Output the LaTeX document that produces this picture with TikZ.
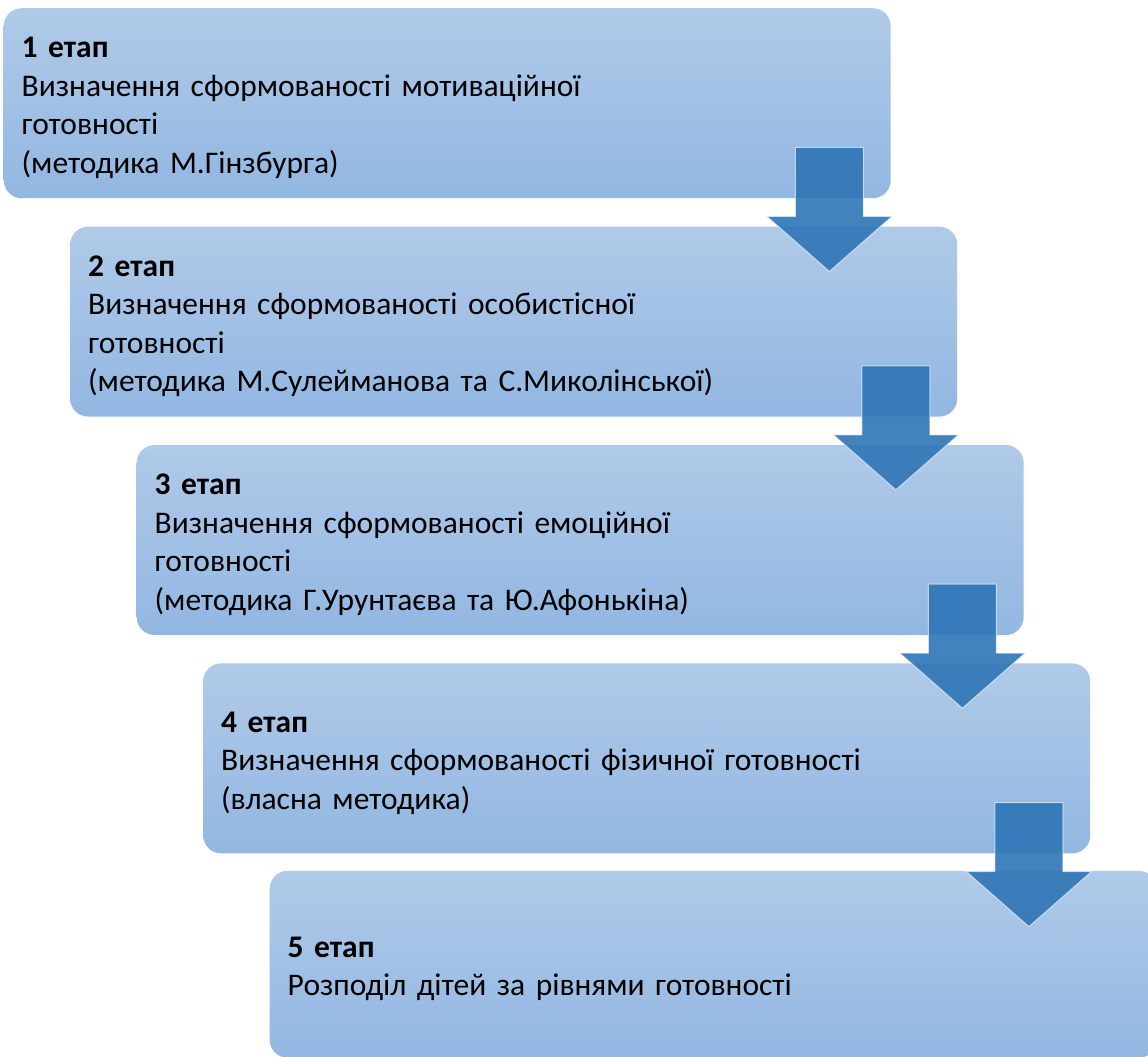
\documentclass[tikz,border=0pt]{standalone}
\usepackage{fontspec}
\setmainfont{Carlito}
\usetikzlibrary{positioning}
\definecolor{boxtop}{RGB}{176,202,232}
\definecolor{boxbot}{RGB}{146,183,226}
\definecolor{arrowblue}{RGB}{46,117,182}
\tikzset{
  stage/.style={rounded corners=18pt, top color=boxtop, bottom color=boxbot,
    minimum height=190pt, text width=851pt, inner xsep=18pt, align=left,
    font=\fontsize{31.5pt}{38.5pt}\selectfont,
    execute at begin node=\rule{0pt}{30pt}},
  pics/downarrow/.style={code={
    \draw[draw=white, draw opacity=0.6, line width=1pt, fill=arrowblue, fill opacity=0.9]
      (-34pt,0pt) -- (34pt,0pt) -- (34pt,-69pt) -- (62.5pt,-69pt) -- (0pt,-124pt)
      -- (-62.5pt,-69pt) -- (-34pt,-69pt) -- cycle;}}
}

\begin{document}
\begin{tikzpicture}
        \useasboundingbox (0,0) rectangle (1148pt,-1057pt);
        \node[stage, anchor=north west] (s1) at (3.5pt,-8pt) {\textbf{1 етап}\\Визначення сформованості мотиваційної\\готовності\\(методика М.Гінзбурга)};
        \node[stage, below=28pt of s1.south west, anchor=north west, xshift=66.5pt] (s2) {\textbf{2 етап}\\Визначення сформованості особистісної\\готовності\\(методика М.Сулейманова та С.Миколінської)};
        \node[stage, below=28pt of s2.south west, anchor=north west, xshift=66.5pt] (s3) {\textbf{3 етап}\\Визначення сформованості емоційної\\готовності\\(методика Г.Урунтаєва та Ю.Афонькіна)};
        \node[stage, below=28pt of s3.south west, anchor=north west, xshift=66.5pt] (s4) {\textbf{4 етап}\\Визначення сформованості фізичної готовності\\(власна методика)};
        \node[stage, minimum height=187pt, below=17pt of s4.south west, anchor=north west, xshift=66.5pt] (s5) {\textbf{5 етап}\\Розподіл дітей за рівнями готовності};
        \pic at ([xshift=-61.5pt, yshift=51pt]s1.south east) {downarrow};
        \pic at ([xshift=-61.5pt, yshift=51pt]s2.south east) {downarrow};
        \pic at ([xshift=-61.5pt, yshift=51pt]s3.south east) {downarrow};
        \pic at ([xshift=-61.5pt, yshift=51pt]s4.south east) {downarrow};
    \end{tikzpicture}
\end{document}
